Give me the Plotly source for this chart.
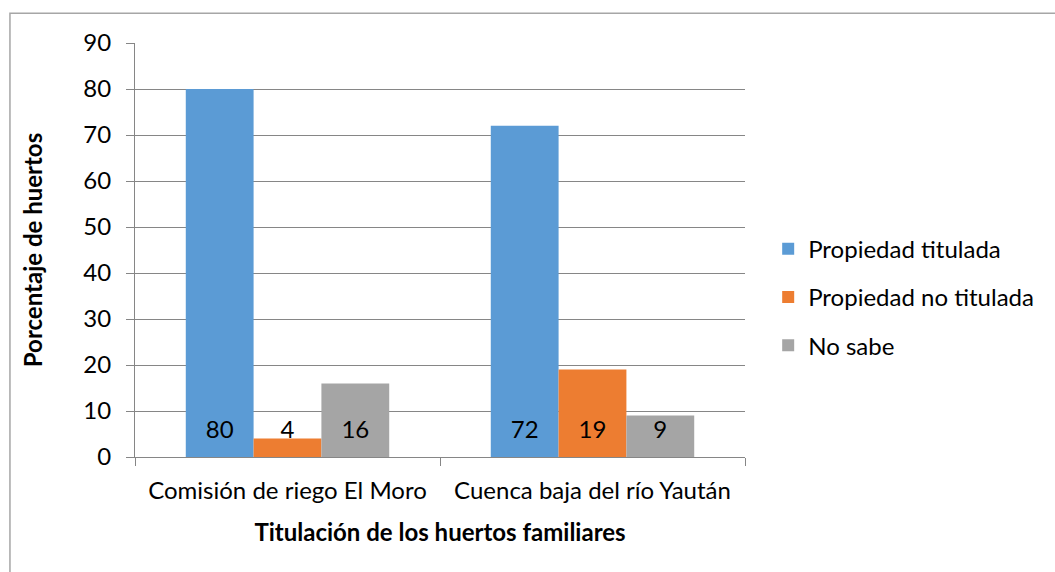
import plotly.graph_objects as go

categories = ["Comisión de riego El Moro", "Cuenca baja del río Yaután"]
series_names = ["Propiedad titulada", "Propiedad no titulada", "No sabe"]
titulada = [80, 72]
no_titulada = [4, 19]
no_sabe = [16, 9]
colors = ["#5B9BD5", "#ED7D31", "#A5A5A5"]
y_ticks = [0, 10, 20, 30, 40, 50, 60, 70, 80, 90]

FONT = "Lato"
GAP = 0.333

fig = go.Figure()
all_vals = [titulada, no_titulada, no_sabe]
for i, (name, vals, col) in enumerate(zip(series_names, all_vals, colors)):
    fig.add_trace(go.Bar(
        x=categories, y=vals, name=name, marker_color=col, marker_line_width=0,
        offsetgroup=str(i), legendgroup=name, hoverinfo="x+y+name",
    ))
# value labels at the base of each bar
for i, (name, vals) in enumerate(zip(series_names, all_vals)):
    fig.add_trace(go.Scatter(
        x=categories, y=[0 for _ in vals], text=[str(v) for v in vals],
        mode="markers+text", textposition="top center",
        marker=dict(size=20, opacity=0),
        textfont=dict(family=FONT, size=24, color="#000000"),
        offsetgroup=str(i), showlegend=False, hoverinfo="skip", cliponaxis=False,
    ))

fig.update_layout(
    width=1055, height=572,
    margin=dict(l=135, r=310, t=43, b=115, autoexpand=False),
    paper_bgcolor="white", plot_bgcolor="white",
    barmode="group", bargap=GAP, bargroupgap=0,
    scattermode="group", scattergap=GAP,
    font=dict(family=FONT, size=24, color="#000000"),
    showlegend=True,
    legend=dict(x=1.038, y=0.386, xanchor="left", yanchor="middle",
                font=dict(family=FONT, size=24, color="#000000"),
                tracegroupgap=14, bgcolor="rgba(0,0,0,0)"),
    xaxis=dict(
        automargin=False,
        showline=True, linecolor="#868686", linewidth=1,
        ticks="outside", tickson="boundaries", ticklen=8, tickcolor="#868686",
        ticklabelstandoff=12,
        showgrid=False,
        title=dict(text="<b>Titulación de los huertos familiares</b>",
                   font=dict(family=FONT, size=24, color="#000000"), standoff=21),
        tickfont=dict(family=FONT, size=24, color="#000000"),
    ),
    yaxis=dict(
        automargin=False,
        range=[0, 90], tickvals=y_ticks,
        showline=True, linecolor="#868686", linewidth=1,
        ticks="outside", ticklen=8, tickcolor="#868686",
        ticklabelstandoff=10,
        showgrid=True, gridcolor="#868686", gridwidth=1,
        zeroline=False,
        title=dict(text="<b>Porcentaje de huertos</b>",
                   font=dict(family=FONT, size=24, color="#000000"), standoff=33),
        tickfont=dict(family=FONT, size=24, color="#000000"),
    ),
    shapes=[dict(type="rect", xref="paper", yref="paper",
                 x0=-0.205, x1=1.52, y0=-0.32, y1=1.072,
                 line=dict(color="#A6A6A6", width=1.5), fillcolor="rgba(0,0,0,0)",
                 layer="below")],
)

fig.write_html("out.html", config={"displayModeBar": False},
               post_script="document.body.style.margin='0';")
